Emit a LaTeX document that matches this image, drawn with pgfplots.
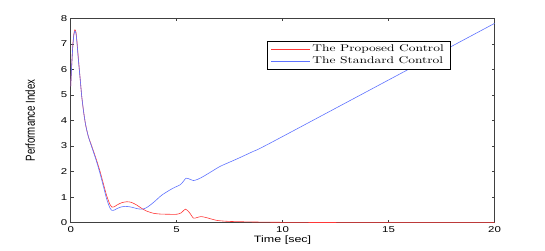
\documentclass[border=0pt]{standalone}
\usepackage{fontspec}
\usepackage{graphicx}
\usepackage{pgfplots}
\pgfplotsset{compat=1.18}
\newfontfamily\tickfont{Liberation Sans}[FakeStretch=1.35]
\newfontfamily\ylabfont{Liberation Sans}
\newfontfamily\legfont{Latin Modern Roman}[FakeStretch=1.38]
\definecolor{myred}{RGB}{255,55,55}
\definecolor{myblue}{RGB}{95,115,255}
\begin{document}
\begin{tikzpicture}
\path[use as bounding box] (-70.7bp,-28.3bp) rectangle (474.3bp,222.7bp);
\begin{axis}[
  at={(0,0)}, anchor=south west,
  scale only axis, width=423.8bp, height=204.4bp,
  xmin=0, xmax=20, ymin=0, ymax=8,
  xtick={0,5,10,15,20}, ytick={0,1,2,3,4,5,6,7,8},
  tick align=inside, major tick length=3bp,
  axis line style={black!75, line width=0.6pt},
  tick style={black!75, line width=0.5pt},
  /pgf/number format/assume math mode=true,
  tick label style={font=\tickfont\fontsize{8.5}{10}\selectfont},
  xlabel={Time [sec]}, ylabel={\scalebox{1}[1.35]{Performance Index}},
  xlabel style={font=\tickfont\fontsize{9.3}{11}\selectfont, at={(axis description cs:0.5,-0.085)}, anchor=center},
  ylabel style={font=\ylabfont\fontsize{9.7}{11}\selectfont, at={(axis description cs:-0.0955,0.5)}, anchor=center},
  legend style={at={(axis description cs:0.895,0.890)}, anchor=north east,
    font=\legfont\fontsize{9.8}{11}\selectfont, draw=black, line width=0.5pt,
    inner xsep=4bp, inner ysep=2bp, row sep=-0.5bp},
  legend cell align=left,
  legend image code/.code={\draw[#1] (0bp,0bp) -- (39bp,0bp);},
]
\addplot[myred, line width=0.6pt, smooth, tension=0.4] coordinates {
(0,5.34) (0.05,6.2) (0.1,6.95) (0.15,7.4) (0.2,7.55) (0.25,7.45) (0.3,7.05)
(0.36,6.45) (0.45,5.6) (0.52,4.95) (0.6,4.4) (0.7,3.85) (0.83,3.38) (1.0,2.98)
(1.2,2.5) (1.38,2.02) (1.55,1.5) (1.7,1.05) (1.85,0.72) (1.95,0.61) (2.05,0.62)
(2.2,0.7) (2.4,0.78) (2.64,0.82) (2.85,0.8) (3.1,0.7) (3.35,0.56) (3.6,0.45)
(3.9,0.37) (4.2,0.34) (4.6,0.33) (5.0,0.33) (5.2,0.38) (5.42,0.53) (5.6,0.4)
(5.79,0.18) (5.95,0.2) (6.15,0.24) (6.4,0.2) (6.9,0.09) (7.5,0.05) (8.5,0.03)
(10,0.015) (13,0.005) (20,0.0)
};
\addlegendentry{The Proposed Control}
\addplot[myblue, line width=0.6pt, smooth, tension=0.4] coordinates {
(0,5.34) (0.05,6.2) (0.1,6.9) (0.15,7.35) (0.2,7.5) (0.25,7.4) (0.3,7.0)
(0.36,6.4) (0.45,5.6) (0.52,4.95) (0.6,4.4) (0.7,3.85) (0.83,3.38) (1.0,2.95)
(1.2,2.45) (1.38,1.94) (1.55,1.4) (1.7,0.92) (1.85,0.58) (1.95,0.48) (2.05,0.49)
(2.2,0.56) (2.4,0.62) (2.56,0.64) (2.8,0.62) (3.0,0.58) (3.2,0.54) (3.4,0.53)
(3.6,0.6) (3.8,0.72) (4.0,0.86) (4.3,1.08) (4.68,1.28) (4.9,1.38) (5.16,1.48)
(5.3,1.6) (5.44,1.74) (5.6,1.71) (5.79,1.65) (6.0,1.7) (6.26,1.81) (6.6,1.98)
(7.04,2.2) (7.5,2.37) (7.83,2.49) (8.61,2.79) (9.72,3.25) (20,7.8)
};
\addlegendentry{The Standard Control}
\end{axis}
\end{tikzpicture}
\end{document}
